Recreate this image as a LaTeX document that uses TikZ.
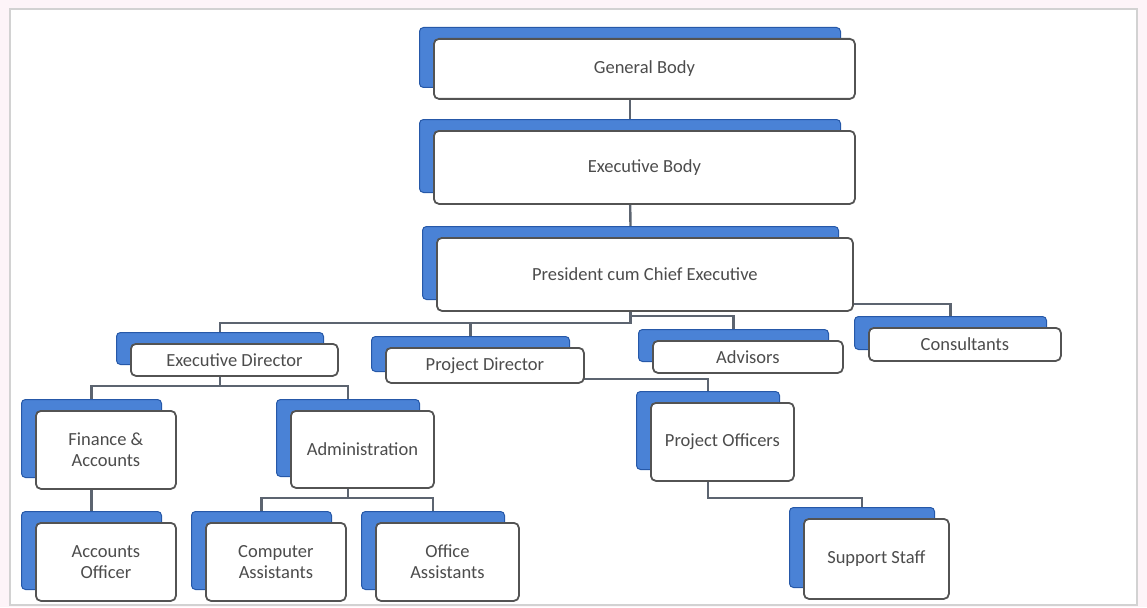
\documentclass[tikz,border=0pt]{standalone}
\usepackage{fontspec}
\setmainfont{Carlito}
\usetikzlibrary{positioning,backgrounds}
\definecolor{cardblue}{RGB}{74,130,214}
\definecolor{cardedge}{RGB}{38,88,168}
\definecolor{linkgray}{RGB}{92,100,112}
\definecolor{framepink}{RGB}{253,244,248}
\tikzstyle{backcard}=[draw=cardedge, fill=cardblue, rounded corners=4pt, line width=1pt, anchor=north west, inner sep=0pt]
\tikzstyle{frontcard}=[draw=gray!65!black, fill=white, rounded corners=5pt, line width=1.8pt, inner sep=2pt, align=center, text=black!70, font=\fontsize{18.5}{21}\selectfont]
\tikzstyle{link}=[draw=linkgray, line width=2.4pt]
\tikzstyle{bigbox}=[minimum width=421pt, minimum height=73pt]
\tikzstyle{midbox}=[minimum width=198pt, minimum height=33pt]
\tikzstyle{lowbox}=[minimum width=142pt, minimum height=78pt]

\begin{document}
\begin{tikzpicture}[x=1pt, y=-1pt]
	\useasboundingbox (0,0) rectangle (1147,607);
	% top levels
	\node[backcard, bigbox, minimum height=60pt] (general) at (419,27) {};
	\node[frontcard, bigbox, minimum height=60pt, below right=11pt and 14pt of general.north west] (generalF) {General Body};
	\node[backcard, bigbox] (executive) at (419,119) {};
	\node[frontcard, bigbox, below right=11pt and 14pt of executive.north west] (executiveF) {Executive Body};
	\node[backcard, bigbox, minimum width=416pt] (president) at (422,226) {};
	\node[frontcard, bigbox, minimum width=416pt, below right=11pt and 14pt of president.north west] (presidentF) {President cum Chief Executive};
	% second level
	\node[backcard, midbox, minimum width=207pt, minimum height=32pt] (execDir) at (116,332) {};
	\node[frontcard, midbox, minimum width=207pt, minimum height=32pt, below right=11pt and 14pt of execDir.north west] (execDirF) {Executive Director};
	\node[backcard, midbox, minimum height=35pt] (projDir) at (371,336) {};
	\node[frontcard, midbox, minimum height=35pt, below right=11pt and 14pt of projDir.north west] (projDirF) {Project Director};
	\node[backcard, midbox, minimum width=190pt, minimum height=32pt] (advisors) at (638,329) {};
	\node[frontcard, midbox, minimum width=190pt, minimum height=32pt, below right=11pt and 14pt of advisors.north west] (advisorsF) {Advisors};
	\node[backcard, midbox, minimum width=192pt] (consult) at (854,316) {};
	\node[frontcard, midbox, minimum width=192pt, below right=11pt and 14pt of consult.north west] (consultF) {Consultants};
	% third level
	\node[backcard, lowbox, minimum width=140pt] (finance) at (21,399) {};
	\node[frontcard, lowbox, minimum width=140pt, below right=11pt and 14pt of finance.north west] (financeF) {Finance \&\\Accounts};
	\node[backcard, lowbox, minimum width=143pt, minimum height=77pt] (admin) at (276,399) {};
	\node[frontcard, lowbox, minimum width=143pt, minimum height=77pt, below right=11pt and 14pt of admin.north west] (adminF) {Administration};
	\node[backcard, lowbox, minimum width=143pt] (projOfficers) at (636,391) {};
	\node[frontcard, lowbox, minimum width=143pt, below right=11pt and 14pt of projOfficers.north west] (projOfficersF) {Project Officers};
	% bottom level
	\node[backcard, lowbox, minimum width=140pt] (accOfficer) at (21,511) {};
	\node[frontcard, lowbox, minimum width=140pt, below right=11pt and 14pt of accOfficer.north west] (accOfficerF) {Accounts\\Officer};
	\node[backcard, lowbox, minimum width=140pt] (compAssist) at (191,511) {};
	\node[frontcard, lowbox, minimum width=140pt, below right=11pt and 14pt of compAssist.north west] (compAssistF) {Computer\\Assistants};
	\node[backcard, lowbox, minimum width=143pt] (officeAssist) at (361,511) {};
	\node[frontcard, lowbox, minimum width=143pt, below right=11pt and 14pt of officeAssist.north west] (officeAssistF) {Office\\Assistants};
	\node[backcard, lowbox, minimum width=145pt, minimum height=80pt] (support) at (789,507) {};
	\node[frontcard, lowbox, minimum width=145pt, minimum height=80pt, below right=11pt and 14pt of support.north west] (supportF) {Support Staff};
	% frame and connectors behind the cards
	\begin{scope}[on background layer]
		\fill[framepink] (0,0) rectangle (1147,607);
		\draw[gray!35, fill=white, line width=1.5pt] (10,9) rectangle (1137,605);
		\path[link] (general.south) -- (executive.north);
		\path[link] (executive.south) -- (president.north);
		\path[link] (president.south) -- ++(0,23) -| (execDir.north);
		\path[link] (president.south) ++(0,23) -| (projDir.north);
		\path[link] (president.south) -- ++(0,16) -| (advisors.north);
		\path[link] (president.south) ++(0,4) -| (consult.north);
		\path[link] (execDir.south) -- ++(0,21) -| (finance.north);
		\path[link] (execDir.south) ++(0,21) -| (admin.north);
		\path[link] (projDir.south) ++(0,7) -| (projOfficers.north);
		\path[link] (finance.south) -- (accOfficer.north);
		\path[link] (admin.south) -- ++(0,21) -| (compAssist.north);
		\path[link] (admin.south) ++(0,21) -| (officeAssist.north);
		\path[link] (projOfficers.south) -- ++(0,28) -| (support.north);
	\end{scope}
\end{tikzpicture}
\end{document}
